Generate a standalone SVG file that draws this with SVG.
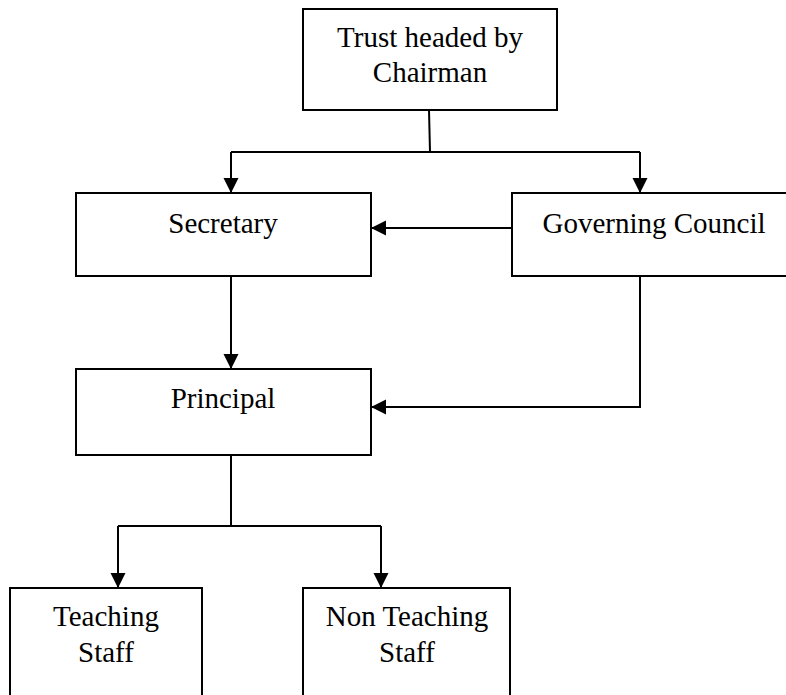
<svg xmlns="http://www.w3.org/2000/svg" width="786" height="695" viewBox="0 0 786 695">
<style>
.box{fill:#fff;stroke:#000;stroke-width:2}
.ln{fill:none;stroke:#000;stroke-width:2}
text{font-family:"Liberation Serif","Times New Roman",serif;font-size:29px;fill:#000;text-anchor:middle}
</style>
<defs>
<marker id="ah" markerUnits="userSpaceOnUse" markerWidth="16" markerHeight="16" viewBox="0 0 16 16" refX="15" refY="8" orient="auto">
<path d="M0,0.5 L15,8 L0,15.5 Z" fill="#000"/>
</marker>
</defs>
<rect width="786" height="695" fill="#fff"/>
<g id="connectors">
<path class="ln" d="M429,110 L430,152"/>
<path class="ln" d="M231,152 L640,152"/>
<path class="ln" d="M231,152 L231,193" marker-end="url(#ah)"/>
<path class="ln" d="M640,152 L640,193" marker-end="url(#ah)"/>
<path class="ln" d="M512,228 L371,228" marker-end="url(#ah)"/>
<path class="ln" d="M231,276 L231,369" marker-end="url(#ah)"/>
<path class="ln" d="M640,276 L640,407 L371,407" marker-end="url(#ah)"/>
<path class="ln" d="M231,455 L231,526"/>
<path class="ln" d="M118,526 L381,526"/>
<path class="ln" d="M118,526 L118,588" marker-end="url(#ah)"/>
<path class="ln" d="M381,526 L381,588" marker-end="url(#ah)"/>
</g>
<g id="trust">
<rect class="box" x="303" y="9" width="254" height="101"/>
<text x="430" y="47">Trust headed by</text>
<text x="430" y="82">Chairman</text>
</g>
<g id="secretary">
<rect class="box" x="76" y="193" width="295" height="83"/>
<text x="223" y="233">Secretary</text>
</g>
<g id="governing">
<rect class="box" x="512" y="193" width="290" height="83"/>
<text x="654" y="233">Governing Council</text>
</g>
<g id="principal">
<rect class="box" x="76" y="369" width="295" height="86"/>
<text x="223" y="408">Principal</text>
</g>
<g id="teaching">
<rect class="box" x="10" y="588" width="192" height="120"/>
<text x="106" y="626">Teaching</text>
<text x="106" y="662">Staff</text>
</g>
<g id="nonteaching">
<rect class="box" x="303" y="588" width="207" height="120"/>
<text x="407" y="626">Non Teaching</text>
<text x="407" y="662">Staff</text>
</g>
</svg>
